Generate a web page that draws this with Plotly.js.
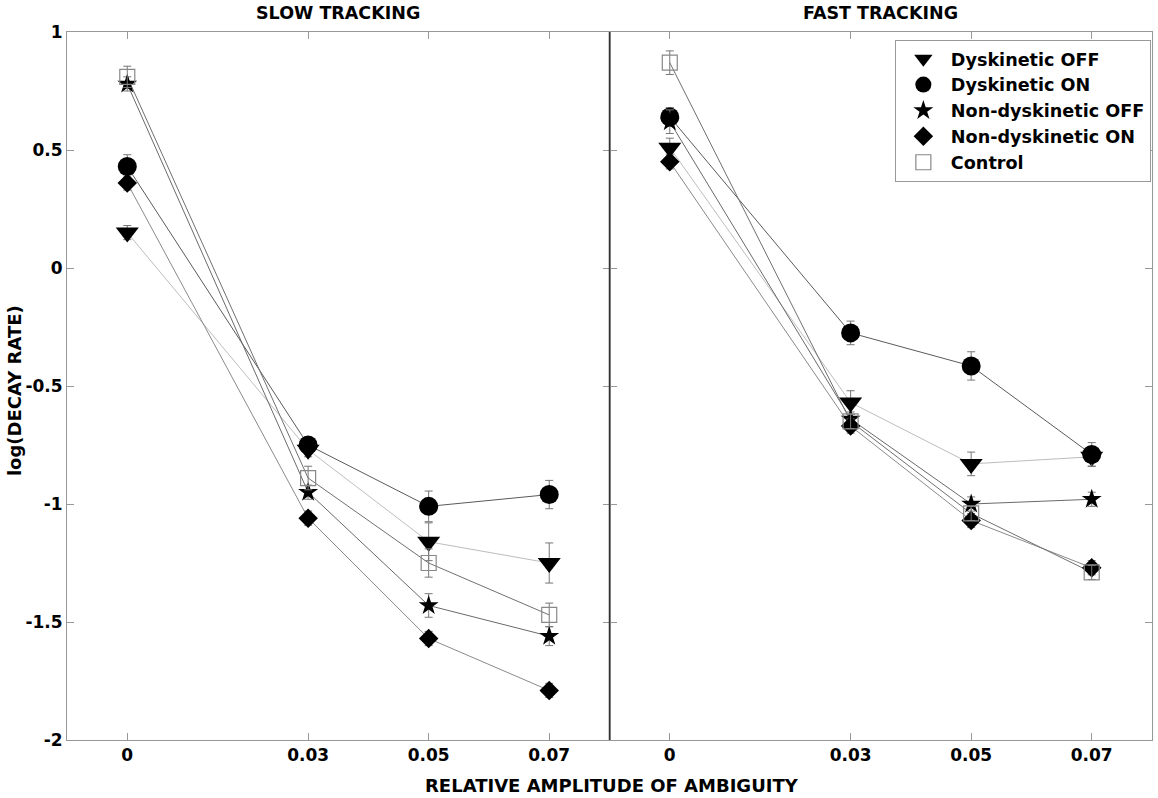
<!DOCTYPE html>
<html>
<head>
<meta charset="utf-8">
<script src="https://cdn.plot.ly/plotly-3.0.1.min.js"></script>
<style>
  html, body { margin: 0; padding: 0; background: #fff; }
  #chart { width: 1158px; height: 798px; }
</style>
</head>
<body>
<div id="chart"></div>
<script>
var amplitude = [0, 0.03, 0.05, 0.07];
var tickLabels = ["0", "0.03", "0.05", "0.07"];
var yTickVals = [-2, -1.5, -1, -0.5, 0, 0.5, 1];
var yTickText = ["-2", "-1.5", "-1", "-0.5", "0", "0.5", "1"];

var groups = ["Dyskinetic OFF", "Dyskinetic ON", "Non-dyskinetic OFF", "Non-dyskinetic ON", "Control"];

// slow tracking, log(decay rate)
var slowDyskOff = [0.15, -0.77, -1.16, -1.25];
var slowDyskOn = [0.43, -0.75, -1.01, -0.96];
var slowNonDyskOff = [0.78, -0.95, -1.43, -1.56];
var slowNonDyskOn = [0.36, -1.06, -1.57, -1.79];
var slowControl = [0.81, -0.89, -1.25, -1.47];

var slowDyskOffErr = [0.03, 0.03, 0.08, 0.085];
var slowDyskOnErr = [0.05, 0.03, 0.065, 0.06];
var slowNonDyskOffErr = [0.03, 0.03, 0.05, 0.04];
var slowNonDyskOnErr = [0.03, 0.03, 0.03, 0.03];
var slowControlErr = [0.045, 0.05, 0.06, 0.05];

// fast tracking
var fastDyskOff = [0.51, -0.57, -0.83, -0.80];
var fastDyskOn = [0.64, -0.275, -0.415, -0.79];
var fastNonDyskOff = [0.62, -0.64, -1.00, -0.98];
var fastNonDyskOn = [0.45, -0.67, -1.07, -1.27];
var fastControl = [0.87, -0.65, -1.04, -1.29];

var fastDyskOffErr = [0.04, 0.05, 0.05, 0.04];
var fastDyskOnErr = [0.04, 0.05, 0.06, 0.05];
var fastNonDyskOffErr = [0.05, 0.03, 0.03, 0.03];
var fastNonDyskOnErr = [0.03, 0.03, 0.03, 0.03];
var fastControlErr = [0.05, 0.03, 0.03, 0.03];

var slow = [slowDyskOff, slowDyskOn, slowNonDyskOff, slowNonDyskOn, slowControl];
var slowErr = [slowDyskOffErr, slowDyskOnErr, slowNonDyskOffErr, slowNonDyskOnErr, slowControlErr];
var fast = [fastDyskOff, fastDyskOn, fastNonDyskOff, fastNonDyskOn, fastControl];
var fastErr = [fastDyskOffErr, fastDyskOnErr, fastNonDyskOffErr, fastNonDyskOnErr, fastControlErr];

var symbols = ["triangle-down", "circle", "star", "diamond", "square-open"];
var sizes = [20, 19, 15, 15, 15];
var markerColors = ["#000", "#000", "#000", "#000", "#888"];
var lineColors = ["#bdbdbd", "#5a5a5a", "#6a6a6a", "#8a8a8a", "#707070"];

var fam = "'DejaVu Sans', sans-serif";
function bold(size) { return { family: fam, size: size, color: "#000", weight: "bold" }; }

var data = [];
var panels = [[slow, slowErr, "x", "y"], [fast, fastErr, "x2", "y2"]];

// lines underneath
panels.forEach(function(p) {
    groups.forEach(function(g, i) {
        data.push({
            x: amplitude, y: p[0][i], xaxis: p[2], yaxis: p[3],
            mode: "lines", type: "scatter", showlegend: false, hoverinfo: "skip",
            line: { color: lineColors[i], width: 1 }
        });
    });
});

// markers with error bars on top
panels.forEach(function(p, k) {
    groups.forEach(function(g, i) {
        data.push({
            x: amplitude, y: p[0][i], xaxis: p[2], yaxis: p[3],
            name: g, legendgroup: g, showlegend: k === 0,
            mode: "markers", type: "scatter",
            marker: {
                symbol: symbols[i], size: sizes[i], color: markerColors[i],
                line: { color: markerColors[i], width: i === 4 ? 1.2 : 0 }
            },
            error_y: { type: "data", array: p[1][i], color: "#777", thickness: 1, width: 4 }
        });
    });
});

var xax = {
    range: [-0.01, 0.08], tickvals: amplitude, ticktext: tickLabels,
    ticks: "inside", ticklen: 7, tickcolor: "#999", tickwidth: 1,
    showline: true, linecolor: "#999", linewidth: 1, mirror: "ticks",
    showgrid: false, zeroline: false, tickfont: bold(17), fixedrange: true
};
var yax = {
    range: [-2, 1], tickvals: yTickVals, ticktext: yTickText,
    ticks: "inside", ticklen: 7, tickcolor: "#999", tickwidth: 1,
    showline: true, linecolor: "#999", linewidth: 1, mirror: "ticks",
    showgrid: false, zeroline: false, tickfont: bold(17), fixedrange: true
};

var layout = {
    width: 1158, height: 798,
    margin: { l: 67, r: 6, t: 32, b: 58 },
    paper_bgcolor: "#fff", plot_bgcolor: "#fff",
    font: bold(17),
    xaxis: Object.assign({}, xax, { domain: [0, 0.5], anchor: "y" }),
    xaxis2: Object.assign({}, xax, { domain: [0.5, 1], anchor: "y2" }),
    yaxis: Object.assign({}, yax, { anchor: "x" }),
    yaxis2: Object.assign({}, yax, { anchor: "x2", showticklabels: false }),
    legend: {
        x: 0.763, y: 0.989, xanchor: "left", yanchor: "top",
        bgcolor: "#fff", bordercolor: "#999", borderwidth: 1,
        font: bold(17.6),
        itemwidth: 45, tracegroupgap: 0
    },
    shapes: [{
        type: "line", xref: "paper", yref: "paper", x0: 0.5, x1: 0.5, y0: 0, y1: 1,
        line: { color: "#333", width: 1.5 }
    }],
    annotations: [
        { text: "SLOW TRACKING", xref: "paper", yref: "paper", x: 0.25, y: 1.027,
          xanchor: "center", yanchor: "middle", showarrow: false, font: bold(17.5) },
        { text: "FAST TRACKING", xref: "paper", yref: "paper", x: 0.75, y: 1.027,
          xanchor: "center", yanchor: "middle", showarrow: false, font: bold(17.5) },
        { text: "RELATIVE AMPLITUDE OF AMBIGUITY", xref: "paper", yref: "paper", x: 0.502, y: -0.064,
          xanchor: "center", yanchor: "middle", showarrow: false, font: bold(18) },
        { text: "log(DECAY RATE)", xref: "paper", yref: "paper", x: -0.049, y: 0.494,
          xanchor: "center", yanchor: "middle", textangle: -90, showarrow: false, font: bold(18) }
    ]
};

Plotly.newPlot("chart", data, layout, { displayModeBar: false, staticPlot: true });
</script>
</body>
</html>
